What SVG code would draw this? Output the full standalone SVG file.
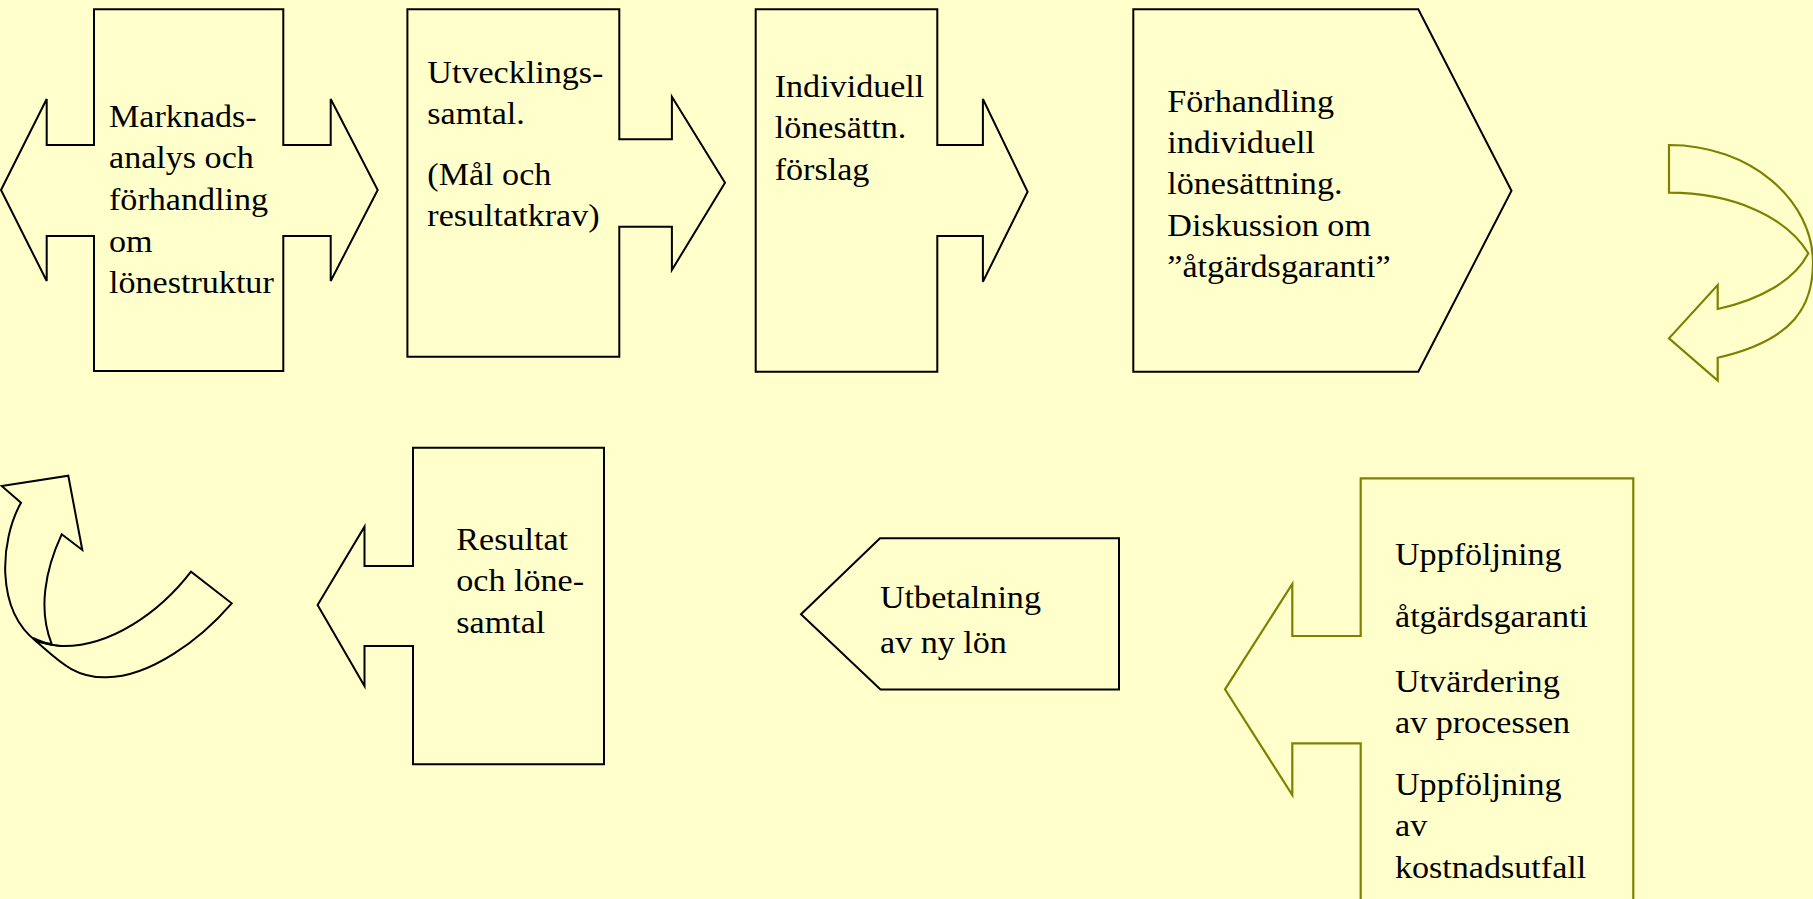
<svg xmlns="http://www.w3.org/2000/svg" width="1813" height="899" viewBox="0 0 1813 899">
<style>
.bg{fill:#FFFFCC}
.shape{fill:#FFFFCC;stroke:#000;stroke-width:2;stroke-linejoin:miter}
.olive{fill:#FFFFCC;stroke:#808000;stroke-width:2.2;stroke-linejoin:miter}
.line{fill:none;stroke:#000;stroke-width:2}
.t{font-size:31px;fill:#000}
</style>
<rect class="bg" x="0" y="0" width="1813" height="899"/>
<g id="node-marknadsanalys">
<path class="shape" d="M94,9.3 H283.3 V145 H330.7 V99 L377.7,190 L330.7,281 V236 H283.3 V371 H94 V236 H46.7 V281 L1,190 L46.7,99 V145 H94 Z"/>
<text class="t" font-family="'Liberation Serif', serif" transform="translate(109,0) scale(1.1,1)"><tspan x="0" y="126.7">Marknads-</tspan><tspan x="0" y="168.4">analys och</tspan><tspan x="0" y="210.1">förhandling</tspan><tspan x="0" y="251.8">om</tspan><tspan x="0" y="293.5">lönestruktur</tspan></text>
</g>
<g id="node-utvecklingssamtal">
<path class="shape" d="M407.4,9.3 H619.3 V139.3 H671.9 V96.7 L725,182.7 L671.9,270 V226.7 H619.3 V356.7 H407.4 Z"/>
<text class="t" font-family="'Liberation Serif', serif" transform="translate(427.3,0) scale(1.1,1)"><tspan x="0" y="83">Utvecklings-</tspan><tspan x="0" y="124.5">samtal.</tspan><tspan x="0" y="185">(Mål och</tspan><tspan x="0" y="226.5">resultatkrav)</tspan></text>
</g>
<g id="node-individuell">
<path class="shape" d="M755.7,9.3 H937.3 V145 H982.9 V99 L1027.6,191.7 L982.9,281.7 V236 H937.3 V371.7 H755.7 Z"/>
<text class="t" font-family="'Liberation Serif', serif" transform="translate(774.7,0) scale(1.1,1)"><tspan x="0" y="96.7">Individuell</tspan><tspan x="0" y="138.4">lönesättn.</tspan><tspan x="0" y="180.1">förslag</tspan></text>
</g>
<g id="node-forhandling">
<path class="shape" d="M1133.3,9.3 H1418.3 L1511.5,190.7 L1418.3,371.7 H1133.3 Z"/>
<text class="t" font-family="'Liberation Serif', serif" transform="translate(1167.3,0) scale(1.1,1)"><tspan x="0" y="111.7">Förhandling</tspan><tspan x="0" y="153.1">individuell</tspan><tspan x="0" y="194.5">lönesättning.</tspan><tspan x="0" y="235.9">Diskussion om</tspan><tspan x="0" y="277.3">”åtgärdsgaranti”</tspan></text>
</g>
<g id="node-uppfoljning">
<path class="olive" d="M1360.7,478.3 H1633.3 V910 H1360.7 V743.3 H1292.3 V795 L1225,689.3 L1292.3,584 V636 H1360.7 Z"/>
<text class="t" font-family="'Liberation Serif', serif" transform="translate(1395,0) scale(1.1,1)"><tspan x="0" y="565">Uppföljning</tspan><tspan x="0" y="626.7">åtgärdsgaranti</tspan><tspan x="0" y="691.7">Utvärdering</tspan><tspan x="0" y="732.7">av processen</tspan><tspan x="0" y="795">Uppföljning</tspan><tspan x="0" y="836.5">av</tspan><tspan x="0" y="878">kostnadsutfall</tspan></text>
</g>
<g id="node-utbetalning">
<path class="shape" d="M801,614.3 L880,538.3 H1119 V689.5 H880.5 Z"/>
<text class="t" font-family="'Liberation Serif', serif" transform="translate(880,0) scale(1.1,1)"><tspan x="0" y="608.3">Utbetalning</tspan><tspan x="0" y="652.7">av ny lön</tspan></text>
</g>
<g id="node-resultat">
<path class="shape" d="M413,447.7 H604 V764.3 H413 V646 H364.5 V686 L317.6,605 L364.5,526.7 V566 H413 Z"/>
<text class="t" font-family="'Liberation Serif', serif" transform="translate(456.3,0) scale(1.1,1)"><tspan x="0" y="550">Resultat</tspan><tspan x="0" y="591.5">och löne-</tspan><tspan x="0" y="633.3">samtal</tspan></text>
</g>
<g id="connectors">
<path class="olive" d="M1669,145 C1750,145 1813,200 1813,263 C1813,305 1795,340 1717.7,357.7 L1717.7,380.7 L1669,338.3 L1717.7,285 L1717.7,309 C1760,300 1795,280 1808.3,253.3 C1785,215 1730,192.7 1669,192.7 Z"/>
<g id="curved-arrow-left">
<path class="shape" d="M36.7,641.7 C60,662 75,678 106.7,677.3 C150,677 200,640 231.7,603.3 L191,571.7 C160,612 110,648 60,646 C48,645 40,643 33,638 Z"/>
<path class="shape" d="M21,502.7 L1.7,486 L68.3,475.7 L82.3,550 L61.7,534.3 C45,570 38,610 51.7,644 L36.7,641.7 C-5,610 0,540 21,502.7 Z"/>
<path class="line" d="M33,638 C48,645 55,646 66.7,646"/>
</g>
</g>
</svg>
